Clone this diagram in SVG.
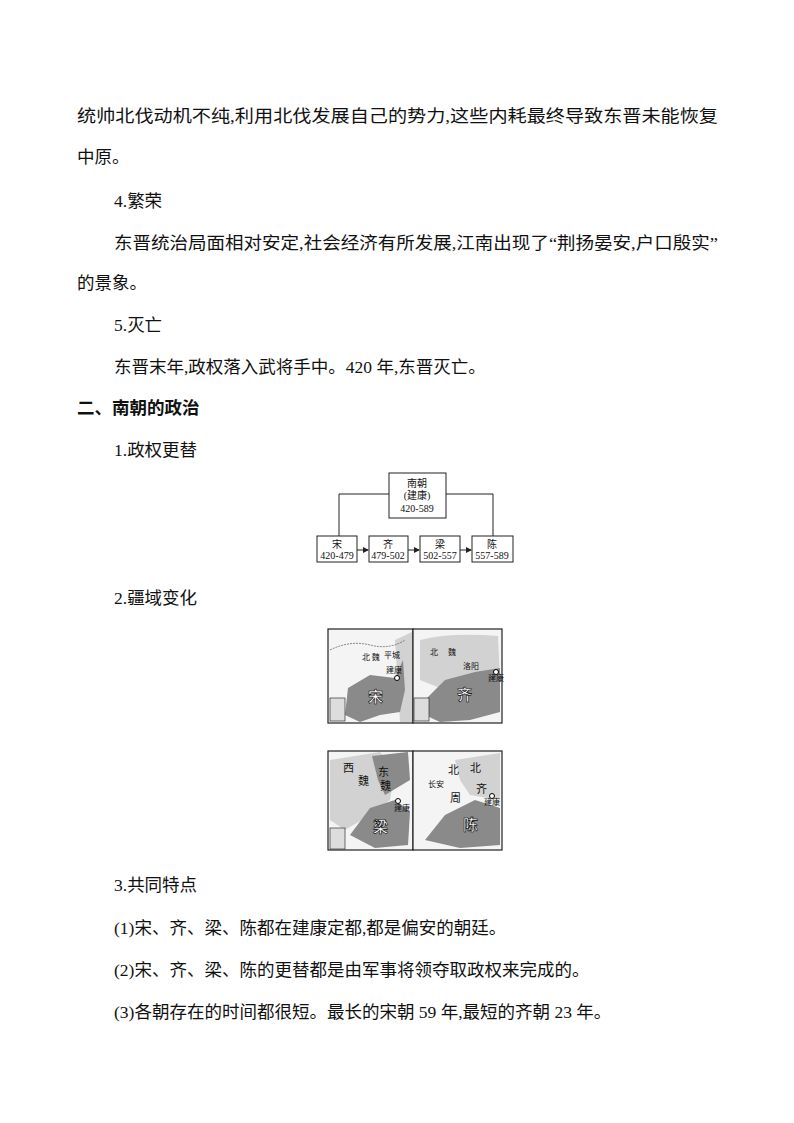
<svg xmlns="http://www.w3.org/2000/svg" width="794" height="1123" viewBox="0 0 794 1123">
<style>
.t{font-family:"Liberation Serif","Noto Sans CJK SC",serif;font-size:17.5px;fill:#111}
.b{font-weight:bold}
.s{font-family:"Liberation Serif","Noto Sans CJK SC",serif;font-size:10px;fill:#111;text-anchor:middle}
.box{fill:#fff;stroke:#222;stroke-width:1}
.ln{fill:none;stroke:#222;stroke-width:1}
.m{font-family:"Noto Sans CJK SC",sans-serif;font-size:8px;fill:#111}
.M{font-family:"Noto Sans CJK SC",sans-serif;font-size:15px;fill:#fff;font-weight:bold;stroke:#000;stroke-width:0.6}
.frame{fill:#f4f4f4;stroke:#222;stroke-width:1.2}
.dark{fill:#8a8a8a}
.lt{fill:#d2d2d2}
</style>
<defs><marker id="a" markerWidth="6" markerHeight="6" refX="5" refY="3" orient="auto"><path d="M0,0 L6,3 L0,6z" fill="#222"/></marker></defs>
<g id="text">
<text class="t" x="77" y="122" textLength="641" lengthAdjust="spacingAndGlyphs">统帅北伐动机不纯,利用北伐发展自己的势力,这些内耗最终导致东晋未能恢复</text>
<text class="t" x="77" y="163">中原。</text>
<text class="t" x="114" y="207">4.繁荣</text>
<text class="t" x="114" y="249" textLength="604" lengthAdjust="spacingAndGlyphs">东晋统治局面相对安定,社会经济有所发展,江南出现了“荆扬晏安,户口殷实”</text>
<text class="t" x="77" y="289">的景象。</text>
<text class="t" x="114" y="331">5.灭亡</text>
<text class="t" x="114" y="373">东晋末年,政权落入武将手中。420 年,东晋灭亡。</text>
<text class="t b" x="77" y="414">二、南朝的政治</text>
<text class="t" x="114" y="456">1.政权更替</text>
<text class="t" x="114" y="604">2.疆域变化</text>
<text class="t" x="114" y="891">3.共同特点</text>
<text class="t" x="114" y="934">(1)宋、齐、梁、陈都在建康定都,都是偏安的朝廷。</text>
<text class="t" x="114" y="976">(2)宋、齐、梁、陈的更替都是由军事将领夺取政权来完成的。</text>
<text class="t" x="114" y="1018">(3)各朝存在的时间都很短。最长的宋朝 59 年,最短的齐朝 23 年。</text>
</g>
<g id="connectors">
<path class="ln" d="M389,494 H339 V536"/>
<path class="ln" d="M446,494 H493 V536"/>
<path class="ln" d="M357,550 H368" marker-end="url(#a)"/>
<path class="ln" d="M408,550 H419" marker-end="url(#a)"/>
<path class="ln" d="M460,550 H471" marker-end="url(#a)"/>
</g>
<g id="n-nanchao"><rect class="box" x="389" y="473" width="57" height="45"/>
<text class="s" x="417" y="487">南朝</text><text class="s" x="417" y="499">(建康)</text><text class="s" x="417" y="512">420-589</text></g>
<g id="n-song"><rect class="box" x="317" y="536" width="40" height="26"/><text class="s" x="337" y="548">宋</text><text class="s" x="337" y="559">420-479</text></g>
<g id="n-qi"><rect class="box" x="369" y="536" width="39" height="26"/><text class="s" x="388" y="548">齐</text><text class="s" x="388" y="559">479-502</text></g>
<g id="n-liang"><rect class="box" x="420" y="536" width="40" height="26"/><text class="s" x="440" y="548">梁</text><text class="s" x="440" y="559">502-557</text></g>
<g id="n-chen"><rect class="box" x="472" y="536" width="41" height="26"/><text class="s" x="492" y="548">陈</text><text class="s" x="492" y="559">557-589</text></g>
<g id="maps">
<rect class="frame" x="328" y="629" width="85" height="94"/>
<path class="lt" d="M395,640 L412,632 L412,722 L400,722 Z"/>
<path class="dark" d="M348,688 L370,675 L395,678 L403,660 L405,690 L400,712 L380,715 L360,722 L345,715 Z"/>
<path d="M330,650 Q350,640 370,645 T405,640" fill="none" stroke="#555" stroke-dasharray="2,1" stroke-width="0.7"/>
<rect x="330" y="698" width="15" height="23" fill="#ddd" stroke="#333" stroke-width="0.7"/>
<text class="m" x="362" y="660">北 魏</text><text class="m" x="384" y="658">平城</text><text class="m" x="386" y="673">建康</text>
<circle cx="397" cy="678" r="2.5" fill="#fff" stroke="#000"/>
<text class="M" x="368" y="702">宋</text>
<rect class="frame" x="413" y="629" width="89" height="94"/>
<path class="lt" d="M420,640 Q450,632 498,636 L500,680 L440,688 L420,680 Z"/>
<path class="dark" d="M425,700 L445,680 L475,672 L500,668 L500,712 L470,720 L440,722 L425,715 Z"/>
<rect x="414" y="698" width="15" height="23" fill="#ddd" stroke="#333" stroke-width="0.7"/>
<text class="m" x="430" y="655">北</text><text class="m" x="448" y="655">魏</text><text class="m" x="463" y="669">洛阳</text><text class="m" x="488" y="681">建康</text>
<circle cx="496" cy="672" r="2.5" fill="#fff" stroke="#000"/>
<text class="M" x="457" y="700">齐</text>
<rect class="frame" x="328" y="751" width="85" height="99"/>
<path class="lt" d="M330,760 L380,752 L395,770 L390,800 L370,815 L345,830 L330,820 Z"/>
<path class="dark" d="M372,756 L408,752 L410,780 L385,795 L378,780 Z"/>
<path class="dark" d="M350,835 L370,808 L395,800 L410,812 L408,845 L375,848 Z"/>
<rect x="330" y="828" width="15" height="21" fill="#ddd" stroke="#333" stroke-width="0.7"/>
<text class="m" x="343" y="772" style="font-size:11px">西</text><text class="m" x="358" y="785" style="font-size:11px">魏</text>
<text class="m" x="378" y="776" style="font-size:11px">东</text><text class="m" x="380" y="790" style="font-size:11px">魏</text>
<text class="m" x="394" y="811">建康</text><circle cx="398" cy="801" r="2.5" fill="#fff" stroke="#000"/>
<text class="M" x="373" y="832">梁</text>
<rect class="frame" x="413" y="751" width="89" height="99"/>
<path class="lt" d="M455,760 L500,753 L500,800 L470,795 L460,780 Z"/>
<path class="dark" d="M425,840 L445,815 L475,800 L500,808 L500,845 L460,848 Z"/>
<text class="m" x="448" y="774" style="font-size:11px">北</text><text class="m" x="470" y="772" style="font-size:11px">北</text>
<text class="m" x="450" y="802" style="font-size:11px">周</text><text class="m" x="476" y="793" style="font-size:11px">齐</text>
<text class="m" x="428" y="787">长安</text><text class="m" x="484" y="805">建康</text><circle cx="492" cy="796" r="2.5" fill="#fff" stroke="#000"/>
<text class="M" x="463" y="830">陈</text>
</g>
</svg>
